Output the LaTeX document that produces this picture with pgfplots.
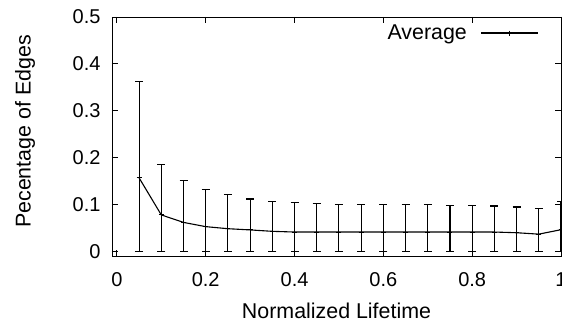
\documentclass[border=0pt]{standalone}
\usepackage{fontspec}
\setmainfont{Liberation Sans}
\usepackage{pgfplots}
\usepackage{pgfplotstable}
\pgfplotsset{compat=1.18}
\pgfplotstableread{
x    y      ep     em
0.05 0.157  0.205  0.157
0.10 0.078  0.108  0.078
0.15 0.062  0.089  0.062
0.20 0.053  0.079  0.053
0.25 0.0486 0.0724 0.0486
0.30 0.046  0.066  0.046
0.35 0.043  0.064  0.043
0.40 0.0415 0.0625 0.0415
0.45 0.0415 0.0615 0.0415
0.50 0.0415 0.0595 0.0415
0.55 0.0415 0.0595 0.0415
0.60 0.0415 0.0595 0.0415
0.65 0.0415 0.0595 0.0415
0.70 0.0415 0.0595 0.0415
0.75 0.0415 0.0575 0.0415
0.80 0.0415 0.056  0.0415
0.85 0.0415 0.0555 0.0415
0.90 0.040  0.0548 0.040
0.95 0.037  0.054  0.037
1.00 0.0465 0.0595 0.0465
}\datatable
\begin{document}
\begin{tikzpicture}
\useasboundingbox (-112pt,-67pt) rectangle (450pt,256pt);
\begin{axis}[
  at={(0pt,0pt)}, anchor=south west,
  scale only axis, width=449pt, height=239pt,
  xmin=-0.011, xmax=1.0, ymin=-0.0096, ymax=0.5,
  xtick={0,0.2,0.4,0.6,0.8,1},
  ytick={0,0.1,0.2,0.3,0.4,0.5},
  yticklabels={0,0.1,0.2,0.3,0.4,0.5},
  xticklabels={0,0.2,0.4,0.6,0.8,1},
  tick align=inside,
  major tick length=6pt,
  axis line style={line width=0.9pt},
  every tick/.style={line width=0.8pt, black},
  /pgf/number format/assume math mode=true,
  tick label style={font=\fontsize{20}{24}\selectfont},
  xticklabel style={yshift=-13pt},
  yticklabel style={xshift=-8pt},
  label style={font=\fontsize{21.4}{25}\selectfont},
  xlabel={Normalized Lifetime},
  ylabel={Pecentage of Edges},
  xlabel style={at={(axis description cs:0.5,0)}, anchor=center, yshift=-55pt},
  ylabel style={at={(axis description cs:0,0.5)}, anchor=center, yshift=87pt, xshift=5pt},
  legend style={draw=none, fill=none, font=\fontsize{21.4}{25}\selectfont,
    at={(rel axis cs:0.958,0.933)}, anchor=east},
  legend plot pos=right,
  legend image code/.code={\draw[mark repeat=2,mark phase=2,#1] plot coordinates {(0pt,0pt) (28.5pt,0pt) (57pt,0pt)};},
]
\addplot+[black, line width=1.1pt, mark=+, mark size=2.5pt,
  mark options={line width=1pt, solid},
  error bars/.cd, y dir=both, y explicit,
  error bar style={line width=1.1pt, black},
  error mark options={rotate=90, line width=1.1pt, mark size=4pt, black}]
  table[x=x, y=y, y error plus=ep, y error minus=em] {\datatable};
\addlegendentry{Average\kern12pt\null}
\end{axis}
\end{tikzpicture}
\end{document}
